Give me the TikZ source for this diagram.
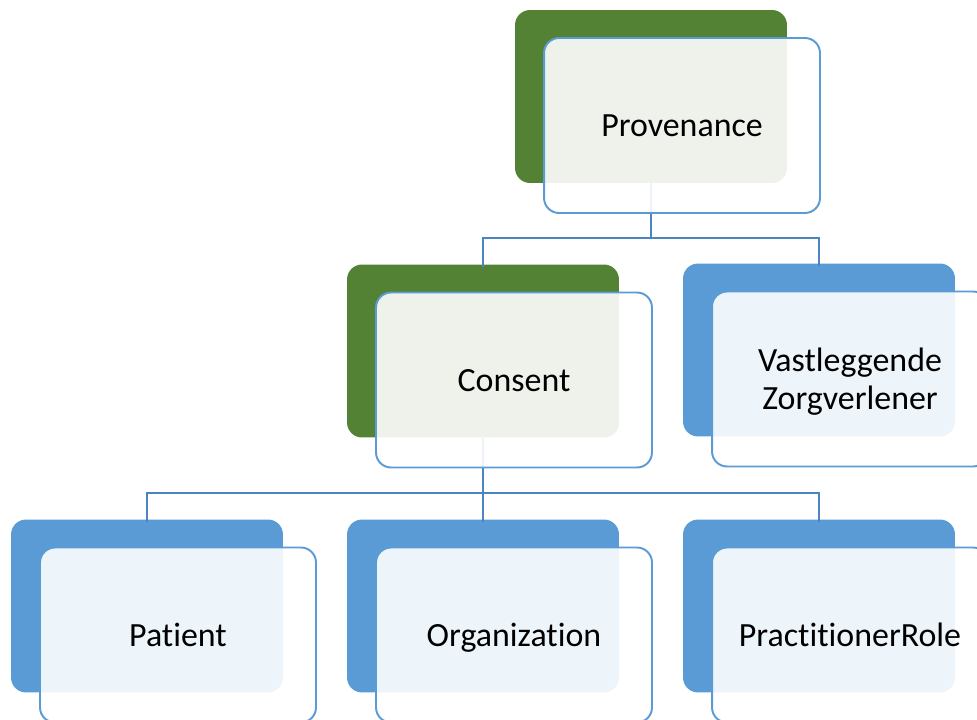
\documentclass[tikz,border=0pt]{standalone}
\usepackage{fontspec}
\setmainfont{Carlito}[Ligatures=NoCommon]
\usepackage{xcolor}
\usepackage{tikz}
\usetikzlibrary{calc}

\definecolor{backgreen}{HTML}{548235}
\definecolor{backblue}{HTML}{5B9BD5}
\definecolor{linkblue}{HTML}{4A85C2}

\begin{document}
\begin{tikzpicture}[x=0.02cm, y=-0.02cm,
		backbox/.style={rectangle, rounded corners=0.3cm, minimum width=5.44cm, minimum height=3.46cm, inner sep=0pt},
		frontbox/.style={rectangle, rounded corners=0.3cm, draw=backblue, line width=1.1pt, fill=white, fill opacity=0.9, text opacity=1, minimum width=5.52cm, minimum height=3.5cm, inner sep=0pt, align=center, text depth=0pt, font=\fontsize{19.3}{21.6}\selectfont},
		link/.style={draw=linkblue, line width=1.4pt}]
		\useasboundingbox (0,0) rectangle (977,720);

		%Level 1
		\node at (651,96.5)  (provB) [backbox, fill=backgreen] {};

		% Level 2
		\node at (483,351)   (consB) [backbox, fill=backgreen] {};
		\node at (819,350)   (vastB) [backbox, fill=backblue] {};

		% Level 3
		\foreach \name/\x in {pat/147, org/483, role/819}{
			\node at (\x,606)   (\name B) [backbox, fill=backblue] {};
		}

		% connectors
		\coordinate (j1) at (651,238);
		\coordinate (j2) at (483,493);
		\draw[link] (provB.south) -- (j1) -| ($(consB.north)+(0,3)$);
		\draw[link] (j1) -| ($(vastB.north)+(0,3)$);
		\draw[link] (consB.south) -- (j2) -| ($(orgB.north)+(0,3)$);
		\draw[link] (j2) -| ($(patB.north)+(0,3)$);
		\draw[link] (j2) -| ($(roleB.north)+(0,3)$);

		% front boxes
		\node at ($(provB)+(31,29)$)  (prov) [frontbox] {Provenance};
		\node at ($(consB)+(31,29)$)  (cons) [frontbox] {Consent};
		\node at ($(vastB)+(31,29)$)  (vast) [frontbox] {Vastleggende\\Zorgverlener};
		\node at ($(patB)+(31,29)$)   (pat)  [frontbox] {Patient};
		\node at ($(orgB)+(31,29)$)   (org)  [frontbox] {Organization};
		\node at ($(roleB)+(31,29)$)  (role) [frontbox] {PractitionerRole};
	\end{tikzpicture}
\end{document}
